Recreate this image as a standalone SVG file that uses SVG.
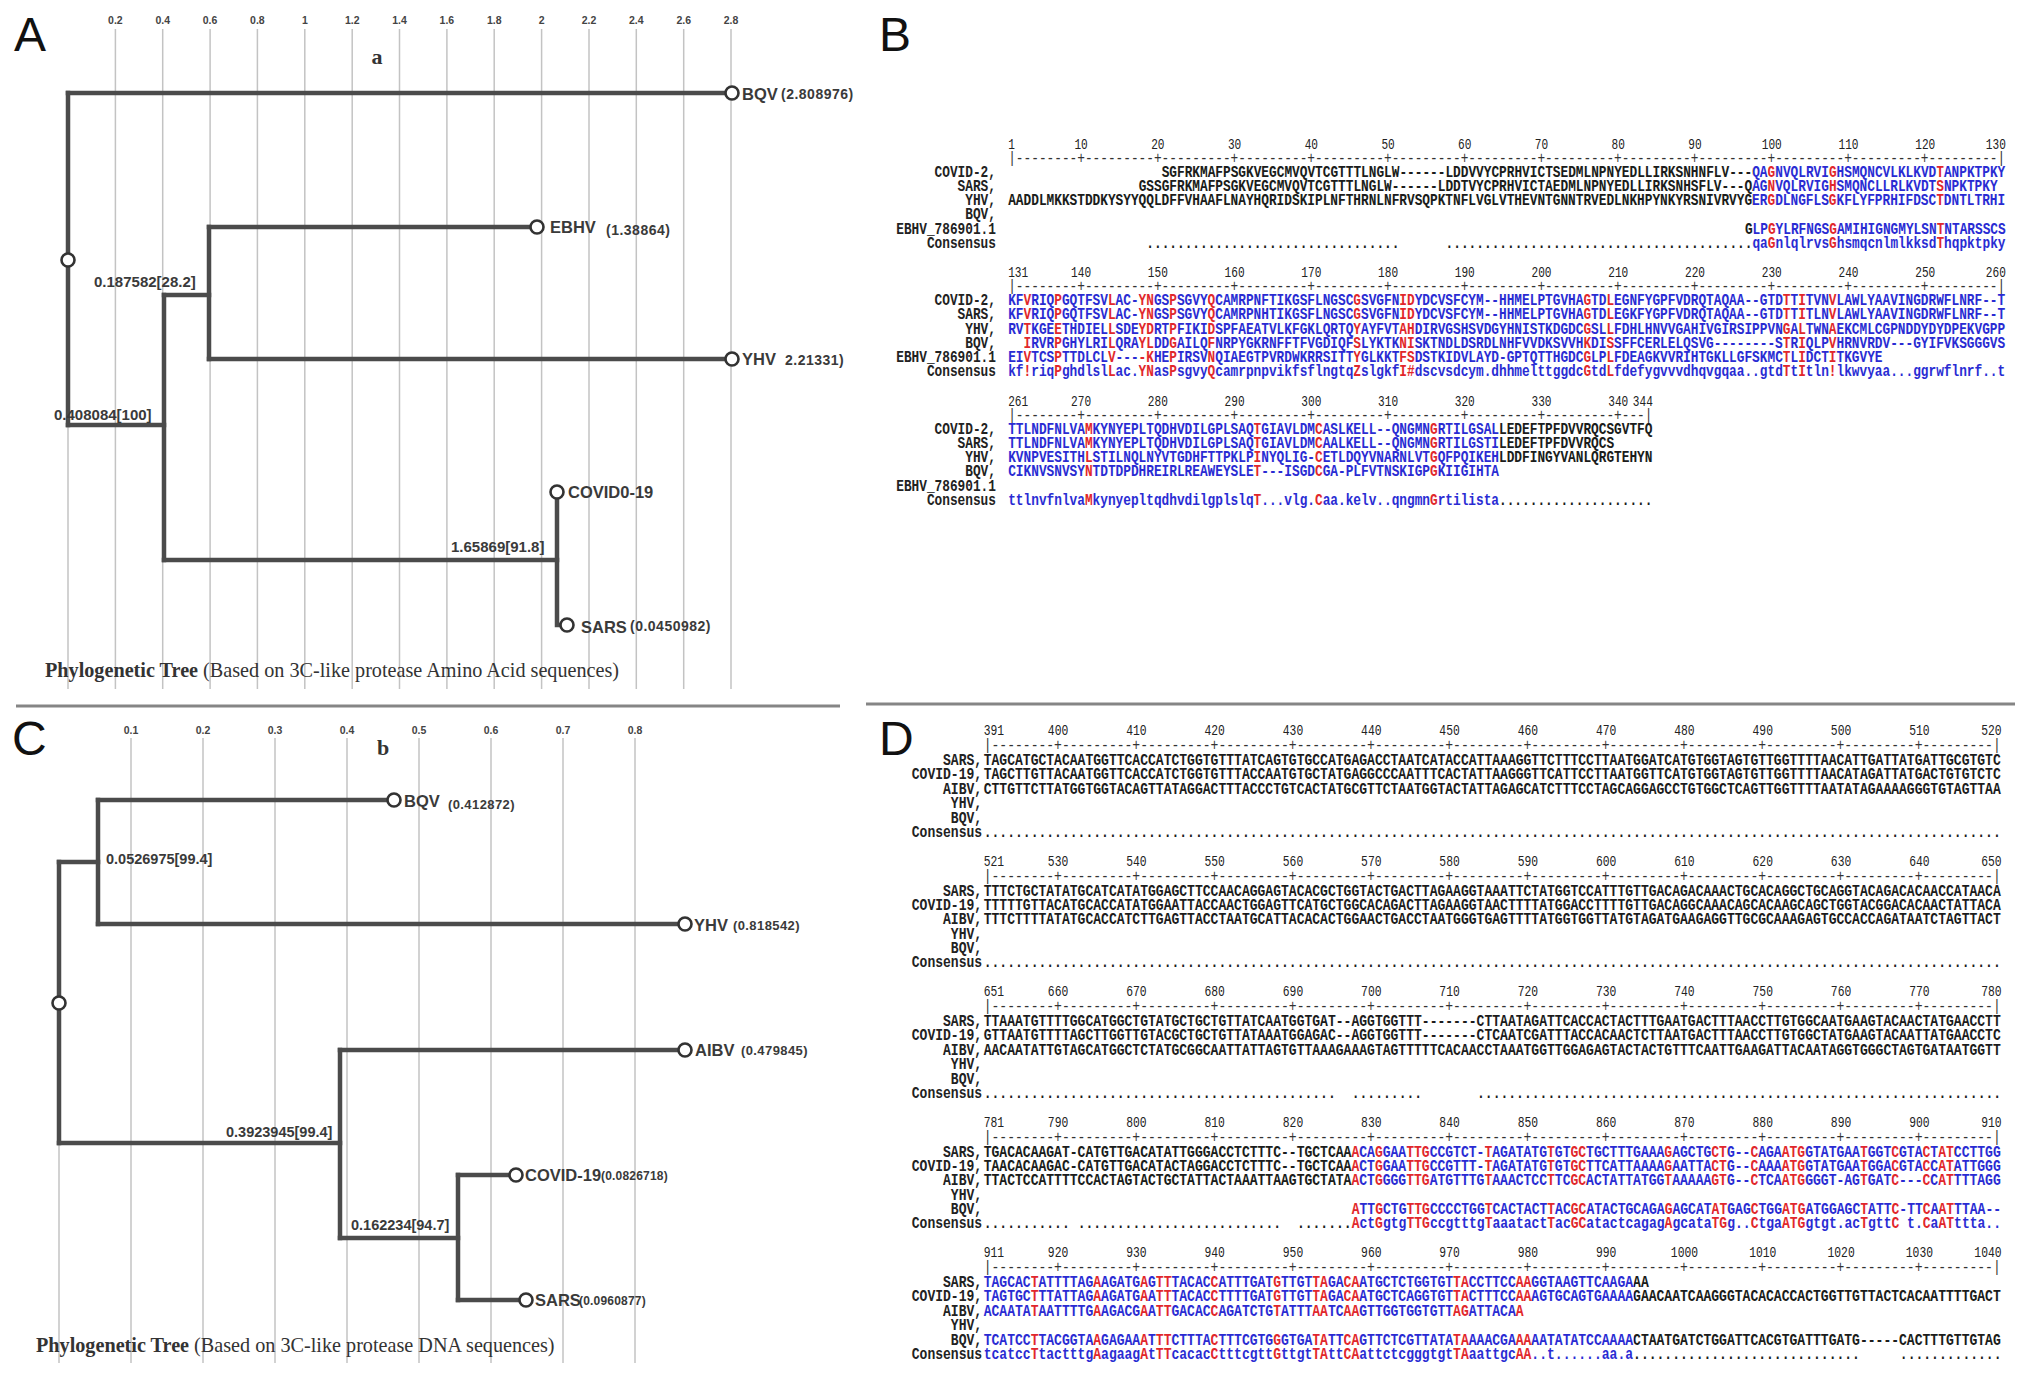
<svg xmlns="http://www.w3.org/2000/svg" width="2032" height="1382" viewBox="0 0 2032 1382">
<style>
.grid{stroke:#c3c3c3;stroke-width:1.5}
.br{fill:none;stroke:#4b4b4b;stroke-width:4.5;stroke-linecap:square;stroke-linejoin:miter}
.nd{fill:#fff;stroke:#333;stroke-width:2.6}
.tk{font-family:"Liberation Sans",Arial,sans-serif;font-size:10.5px;font-weight:bold;fill:#444;text-anchor:middle}
.lf{font-family:"Liberation Sans",Arial,sans-serif;font-size:16.5px;font-weight:bold;fill:#3a3a3a}
.lv{font-family:"Liberation Sans",Arial,sans-serif;font-size:14px;letter-spacing:0.5px;font-weight:bold;fill:#3a3a3a}
.lvc{font-family:"Liberation Sans",Arial,sans-serif;font-size:13px;letter-spacing:0.4px;font-weight:bold;fill:#3a3a3a}
.bl{font-family:"Liberation Sans",Arial,sans-serif;font-size:15px;font-weight:bold;fill:#3a3a3a}
.cap{font-family:"Liberation Serif","Times New Roman",serif;font-size:20.2px;fill:#333}
.capb{font-weight:bold}
.sub{font-family:"Liberation Serif","Times New Roman",serif;font-size:22px;font-weight:bold;fill:#333;text-anchor:middle}
.pl{font-family:"Liberation Sans",Arial,sans-serif;font-size:48px;fill:#111}
.div{stroke:#858585;stroke-width:3}
.sq{font-family:"Liberation Mono","Courier New",monospace;font-size:16.667px;font-weight:bold}
.nm{font-family:"Liberation Mono","Courier New",monospace;font-size:16.667px;font-weight:bold;fill:#222;text-anchor:end}
.num{font-family:"Liberation Mono","Courier New",monospace;font-size:14.5px;fill:#222;text-anchor:middle}
.n0{text-anchor:start}
.n1{text-anchor:end}
.rl{font-family:"Liberation Mono","Courier New",monospace;font-size:16.667px;fill:#333}
.k{fill:#1c1c1c}
.s0{stop-color:#1c1c1c}
.s1{stop-color:#2a2ad2}
.s2{stop-color:#e0262c}
</style>
<defs>
<linearGradient id="gB1" gradientUnits="userSpaceOnUse" x1="0" y1="0" x2="1300" y2="0">
<stop offset="0" class="s0"/><stop offset="0.746154" class="s0"/><stop offset="0.746154" class="s1"/><stop offset="0.761538" class="s1"/><stop offset="0.761538" class="s2"/><stop offset="0.769231" class="s2"/><stop offset="0.769231" class="s1"/><stop offset="0.823077" class="s1"/><stop offset="0.823077" class="s2"/><stop offset="0.830769" class="s2"/><stop offset="0.830769" class="s1"/><stop offset="0.930769" class="s1"/><stop offset="0.930769" class="s2"/><stop offset="0.938462" class="s2"/><stop offset="0.938462" class="s1"/><stop offset="1" class="s1"/>
</linearGradient>
<linearGradient id="gB2" gradientUnits="userSpaceOnUse" x1="0" y1="0" x2="1300" y2="0">
<stop offset="0" class="s1"/>
<stop offset="0.015385" class="s1"/><stop offset="0.015385" class="s2"/><stop offset="0.023077" class="s2"/><stop offset="0.023077" class="s1"/>
<stop offset="0.046154" class="s1"/><stop offset="0.046154" class="s2"/><stop offset="0.053846" class="s2"/><stop offset="0.053846" class="s1"/>
<stop offset="0.1" class="s1"/><stop offset="0.1" class="s2"/><stop offset="0.107692" class="s2"/><stop offset="0.107692" class="s1"/>
<stop offset="0.130769" class="s1"/><stop offset="0.130769" class="s2"/><stop offset="0.146154" class="s2"/><stop offset="0.146154" class="s1"/>
<stop offset="0.161538" class="s1"/><stop offset="0.161538" class="s2"/><stop offset="0.169231" class="s2"/><stop offset="0.169231" class="s1"/>
<stop offset="0.2" class="s1"/><stop offset="0.2" class="s2"/><stop offset="0.207692" class="s2"/><stop offset="0.207692" class="s1"/>
<stop offset="0.346154" class="s1"/><stop offset="0.346154" class="s2"/><stop offset="0.353846" class="s2"/><stop offset="0.353846" class="s1"/>
<stop offset="0.392308" class="s1"/><stop offset="0.392308" class="s2"/><stop offset="0.407692" class="s2"/><stop offset="0.407692" class="s1"/>
<stop offset="0.576923" class="s1"/><stop offset="0.576923" class="s2"/><stop offset="0.584615" class="s2"/><stop offset="0.584615" class="s1"/>
<stop offset="0.6" class="s1"/><stop offset="0.6" class="s2"/><stop offset="0.607692" class="s2"/><stop offset="0.607692" class="s1"/>
<stop offset="0.776923" class="s1"/><stop offset="0.776923" class="s2"/><stop offset="0.784615" class="s2"/><stop offset="0.784615" class="s1"/>
<stop offset="0.792308" class="s1"/><stop offset="0.792308" class="s2"/><stop offset="0.8" class="s2"/><stop offset="0.8" class="s1"/>
<stop offset="0.823077" class="s1"/><stop offset="0.823077" class="s2"/><stop offset="0.830769" class="s2"/><stop offset="0.830769" class="s1"/>
<stop offset="1" class="s1"/>
</linearGradient>
<linearGradient id="gB3" gradientUnits="userSpaceOnUse" x1="0" y1="0" x2="1300" y2="0">
<stop offset="0" class="s1"/>
<stop offset="0.076923" class="s1"/><stop offset="0.076923" class="s2"/><stop offset="0.084615" class="s2"/><stop offset="0.084615" class="s1"/>
<stop offset="0.246154" class="s1"/><stop offset="0.246154" class="s2"/><stop offset="0.253846" class="s2"/><stop offset="0.253846" class="s1"/>
<stop offset="0.307692" class="s1"/><stop offset="0.307692" class="s2"/><stop offset="0.315385" class="s2"/><stop offset="0.315385" class="s1"/>
<stop offset="0.423077" class="s1"/><stop offset="0.423077" class="s2"/><stop offset="0.430769" class="s2"/><stop offset="0.430769" class="s1"/>
<stop offset="0.492308" class="s1"/><stop offset="0.492308" class="s0"/><stop offset="1" class="s0"/>
</linearGradient>
<linearGradient id="gD4" gradientUnits="userSpaceOnUse" x1="0" y1="0" x2="1300" y2="0">
<stop offset="0" class="s0"/><stop offset="0.361538" class="s0"/><stop offset="0.361538" class="s2"/><stop offset="0.369231" class="s2"/><stop offset="0.369231" class="s1"/>
<stop offset="0.384615" class="s1"/><stop offset="0.384615" class="s2"/><stop offset="0.392308" class="s2"/><stop offset="0.392308" class="s1"/>
<stop offset="0.415385" class="s1"/><stop offset="0.415385" class="s2"/><stop offset="0.438462" class="s2"/><stop offset="0.438462" class="s1"/>
<stop offset="0.492308" class="s1"/><stop offset="0.492308" class="s2"/><stop offset="0.5" class="s2"/><stop offset="0.5" class="s1"/>
<stop offset="0.553846" class="s1"/><stop offset="0.553846" class="s2"/><stop offset="0.561538" class="s2"/><stop offset="0.561538" class="s1"/>
<stop offset="0.576923" class="s1"/><stop offset="0.576923" class="s2"/><stop offset="0.592308" class="s2"/><stop offset="0.592308" class="s1"/>
<stop offset="0.669231" class="s1"/><stop offset="0.669231" class="s2"/><stop offset="0.676923" class="s2"/><stop offset="0.676923" class="s1"/>
<stop offset="0.715385" class="s1"/><stop offset="0.715385" class="s2"/><stop offset="0.730769" class="s2"/><stop offset="0.730769" class="s1"/>
<stop offset="0.753846" class="s1"/><stop offset="0.753846" class="s2"/><stop offset="0.761538" class="s2"/><stop offset="0.761538" class="s1"/>
<stop offset="0.784615" class="s1"/><stop offset="0.784615" class="s2"/><stop offset="0.807692" class="s2"/><stop offset="0.807692" class="s1"/>
<stop offset="0.861538" class="s1"/><stop offset="0.861538" class="s2"/><stop offset="0.869231" class="s2"/><stop offset="0.869231" class="s1"/>
<stop offset="0.892308" class="s1"/><stop offset="0.892308" class="s2"/><stop offset="0.9" class="s2"/><stop offset="0.9" class="s1"/>
<stop offset="0.923077" class="s1"/><stop offset="0.923077" class="s2"/><stop offset="0.930769" class="s2"/><stop offset="0.930769" class="s1"/>
<stop offset="0.938462" class="s1"/><stop offset="0.938462" class="s2"/><stop offset="0.953846" class="s2"/><stop offset="0.953846" class="s1"/>
<stop offset="1" class="s1"/>
</linearGradient>
<linearGradient id="gD5" gradientUnits="userSpaceOnUse" x1="0" y1="0" x2="1300" y2="0">
<stop offset="0" class="s1"/>
<stop offset="0.046154" class="s1"/><stop offset="0.046154" class="s2"/><stop offset="0.053846" class="s2"/><stop offset="0.053846" class="s1"/>
<stop offset="0.107692" class="s1"/><stop offset="0.107692" class="s2"/><stop offset="0.115385" class="s2"/><stop offset="0.115385" class="s1"/>
<stop offset="0.153846" class="s1"/><stop offset="0.153846" class="s2"/><stop offset="0.161538" class="s2"/><stop offset="0.161538" class="s1"/>
<stop offset="0.169231" class="s1"/><stop offset="0.169231" class="s2"/><stop offset="0.184615" class="s2"/><stop offset="0.184615" class="s1"/>
<stop offset="0.223077" class="s1"/><stop offset="0.223077" class="s2"/><stop offset="0.230769" class="s2"/><stop offset="0.230769" class="s1"/>
<stop offset="0.284615" class="s1"/><stop offset="0.284615" class="s2"/><stop offset="0.292308" class="s2"/><stop offset="0.292308" class="s1"/>
<stop offset="0.323077" class="s1"/><stop offset="0.323077" class="s2"/><stop offset="0.338462" class="s2"/><stop offset="0.338462" class="s1"/>
<stop offset="0.353846" class="s1"/><stop offset="0.353846" class="s2"/><stop offset="0.369231" class="s2"/><stop offset="0.369231" class="s1"/>
<stop offset="0.461538" class="s1"/><stop offset="0.461538" class="s2"/><stop offset="0.476923" class="s2"/><stop offset="0.476923" class="s1"/>
<stop offset="0.523077" class="s1"/><stop offset="0.523077" class="s2"/><stop offset="0.538462" class="s2"/><stop offset="0.538462" class="s1"/>
<stop offset="0.638462" class="s1"/><stop offset="0.638462" class="s0"/><stop offset="1" class="s0"/>
</linearGradient>
</defs>
<rect width="2032" height="1382" fill="#fff"/>

<!-- panel letters and dividers -->
<text class="pl" x="14" y="51">A</text>
<text class="pl" x="879" y="51">B</text>
<text class="pl" x="12" y="755">C</text>
<text class="pl" x="879" y="755">D</text>
<line class="div" x1="16" y1="706" x2="840" y2="706"/>
<line class="div" x1="866" y1="704" x2="2015" y2="704"/>

<!-- ================= PANEL A : tree ================= -->
<g id="tree-a">
<g id="grid-a">
<line class="grid" x1="68" y1="93" x2="68" y2="689"/>
<line class="grid" x1="115.4" y1="29" x2="115.4" y2="689"/>
<line class="grid" x1="162.7" y1="29" x2="162.7" y2="689"/>
<line class="grid" x1="210.1" y1="29" x2="210.1" y2="689"/>
<line class="grid" x1="257.4" y1="29" x2="257.4" y2="689"/>
<line class="grid" x1="304.8" y1="29" x2="304.8" y2="689"/>
<line class="grid" x1="352.2" y1="29" x2="352.2" y2="689"/>
<line class="grid" x1="399.5" y1="29" x2="399.5" y2="689"/>
<line class="grid" x1="446.9" y1="29" x2="446.9" y2="689"/>
<line class="grid" x1="494.2" y1="29" x2="494.2" y2="689"/>
<line class="grid" x1="541.6" y1="29" x2="541.6" y2="689"/>
<line class="grid" x1="589" y1="29" x2="589" y2="689"/>
<line class="grid" x1="636.3" y1="29" x2="636.3" y2="689"/>
<line class="grid" x1="683.7" y1="29" x2="683.7" y2="689"/>
<line class="grid" x1="731" y1="29" x2="731" y2="689"/>
<text class="tk" x="115.4" y="24">0.2</text>
<text class="tk" x="162.7" y="24">0.4</text>
<text class="tk" x="210.1" y="24">0.6</text>
<text class="tk" x="257.4" y="24">0.8</text>
<text class="tk" x="304.8" y="24">1</text>
<text class="tk" x="352.2" y="24">1.2</text>
<text class="tk" x="399.5" y="24">1.4</text>
<text class="tk" x="446.9" y="24">1.6</text>
<text class="tk" x="494.2" y="24">1.8</text>
<text class="tk" x="541.6" y="24">2</text>
<text class="tk" x="589" y="24">2.2</text>
<text class="tk" x="636.3" y="24">2.4</text>
<text class="tk" x="683.7" y="24">2.6</text>
<text class="tk" x="731" y="24">2.8</text>
</g>
<text class="sub" x="377" y="64">a</text>
<g id="edges-a">
<path class="br" d="M68,93 V425"/>
<path class="br" d="M68,93 H731"/>
<path class="br" d="M68,425 H164"/>
<path class="br" d="M164,295 V560"/>
<path class="br" d="M164,295 H209"/>
<path class="br" d="M209,227 V359"/>
<path class="br" d="M209,227 H537"/>
<path class="br" d="M209,359 H731"/>
<path class="br" d="M164,560 H557"/>
<path class="br" d="M557,492 V625 H566"/>
</g>
<text class="bl" x="94" y="287">0.187582[28.2]</text>
<text class="bl" x="54" y="420">0.408084[100]</text>
<text class="bl" x="451" y="552">1.65869[91.8]</text>
<g id="a-root"><circle class="nd" cx="68" cy="260" r="6.5"/></g>
<g id="a-bqv"><circle class="nd" cx="732" cy="93" r="6.5"/><text class="lf" x="742" y="100">BQV</text><text class="lv" x="781" y="99">(2.808976)</text></g>
<g id="a-ebhv"><circle class="nd" cx="537" cy="227" r="6.5"/><text class="lf" x="550" y="233">EBHV</text><text class="lv" x="606" y="235">(1.38864)</text></g>
<g id="a-yhv"><circle class="nd" cx="732" cy="359" r="6.5"/><text class="lf" x="742" y="365">YHV</text><text class="lv" x="785" y="365">2.21331)</text></g>
<g id="a-covid"><circle class="nd" cx="557" cy="492" r="6.5"/><text class="lf" x="568" y="498">COVID0-19</text></g>
<g id="a-sars"><circle class="nd" cx="567" cy="625" r="6.5"/><text class="lf" x="581" y="633">SARS</text><text class="lv" x="630" y="631">(0.0450982)</text></g>
<text class="cap" x="45" y="677"><tspan class="capb">Phylogenetic Tree</tspan> (Based on 3C-like protease Amino Acid sequences)</text>
</g>

<!-- ================= PANEL C : tree ================= -->
<g id="tree-c">
<g id="grid-c">
<line class="grid" x1="59" y1="862" x2="59" y2="1363"/>
<line class="grid" x1="131" y1="738" x2="131" y2="1363"/>
<line class="grid" x1="203" y1="738" x2="203" y2="1363"/>
<line class="grid" x1="275" y1="738" x2="275" y2="1363"/>
<line class="grid" x1="347" y1="738" x2="347" y2="1363"/>
<line class="grid" x1="419" y1="738" x2="419" y2="1363"/>
<line class="grid" x1="491" y1="738" x2="491" y2="1363"/>
<line class="grid" x1="563" y1="738" x2="563" y2="1363"/>
<line class="grid" x1="635" y1="738" x2="635" y2="1363"/>
<text class="tk" x="131" y="734">0.1</text>
<text class="tk" x="203" y="734">0.2</text>
<text class="tk" x="275" y="734">0.3</text>
<text class="tk" x="347" y="734">0.4</text>
<text class="tk" x="419" y="734">0.5</text>
<text class="tk" x="491" y="734">0.6</text>
<text class="tk" x="563" y="734">0.7</text>
<text class="tk" x="635" y="734">0.8</text>
</g>
<text class="sub" x="383" y="755">b</text>
<g id="edges-c">
<path class="br" d="M59,862 V1143"/>
<path class="br" d="M59,862 H98"/>
<path class="br" d="M98,800 V924"/>
<path class="br" d="M98,800 H394"/>
<path class="br" d="M98,924 H685"/>
<path class="br" d="M59,1143 H340"/>
<path class="br" d="M340,1050 V1238"/>
<path class="br" d="M340,1050 H685"/>
<path class="br" d="M340,1238 H458"/>
<path class="br" d="M458,1175 V1300"/>
<path class="br" d="M458,1175 H516"/>
<path class="br" d="M458,1300 H526"/>
</g>
<text class="bl" x="106" y="864" style="font-size:14.5px">0.0526975[99.4]</text>
<text class="bl" x="226" y="1137" style="font-size:14.5px">0.3923945[99.4]</text>
<text class="bl" x="351" y="1230" style="font-size:14.5px">0.162234[94.7]</text>
<g id="c-root"><circle class="nd" cx="59" cy="1003" r="6.5"/></g>
<g id="c-bqv"><circle class="nd" cx="394" cy="800" r="6.5"/><text class="lf" x="404" y="807">BQV</text><text class="lvc" x="448" y="809">(0.412872)</text></g>
<g id="c-yhv"><circle class="nd" cx="685" cy="924" r="6.5"/><text class="lf" x="694" y="931">YHV</text><text class="lvc" x="733" y="930">(0.818542)</text></g>
<g id="c-aibv"><circle class="nd" cx="685" cy="1050" r="6.5"/><text class="lf" x="695" y="1056">AIBV</text><text class="lvc" x="741" y="1055">(0.479845)</text></g>
<g id="c-covid"><circle class="nd" cx="516" cy="1175" r="6.5"/><text class="lf" x="525" y="1181">COVID-19</text><text class="lvc" x="601" y="1180" style="font-size:12px;letter-spacing:0.2px">(0.0826718)</text></g>
<g id="c-sars"><circle class="nd" cx="526" cy="1300" r="6.5"/><text class="lf" x="535" y="1306">SARS</text><text class="lvc" x="579" y="1305" style="font-size:12px;letter-spacing:0.2px">(0.0960877)</text></g>
<text class="cap" x="36" y="1352"><tspan class="capb">Phylogenetic Tree</tspan> (Based on 3C-like protease DNA sequences)</text>
</g>

<!-- ================= PANEL B : protein alignment ================= -->
<g id="aln-b">
<g id="b-block1" transform="translate(1008.2,176.5) scale(0.7674,1)">
<text class="num n0" x="0" y="-28">1</text><text class="num" x="95" y="-28">10</text><text class="num" x="195" y="-28">20</text><text class="num" x="295" y="-28">30</text><text class="num" x="395" y="-28">40</text><text class="num" x="495" y="-28">50</text><text class="num" x="595" y="-28">60</text><text class="num" x="695" y="-28">70</text><text class="num" x="795" y="-28">80</text><text class="num" x="895" y="-28">90</text><text class="num" x="995" y="-28">100</text><text class="num" x="1095" y="-28">110</text><text class="num" x="1195" y="-28">120</text><text class="num n1" x="1300" y="-28">130</text>
<text class="rl" x="0" y="-14">|--------+---------+---------+---------+---------+---------+---------+---------+---------+---------+---------+---------+---------|</text>
<text class="nm" x="-16" y="0">COVID-2,</text>
<text class="nm" x="-16" y="14.28">SARS,</text>
<text class="nm" x="-16" y="28.56">YHV,</text>
<text class="nm" x="-16" y="42.84">BQV,</text>
<text class="nm" x="-16" y="57.12">EBHV_786901.1</text>
<text class="nm" x="-16" y="71.4">Consensus</text>
<text class="sq" fill="url(#gB1)" x="200" y="0">SGFRKMAFPSGKVEGCMVQVTCGTTTLNGLW------LDDVVYCPRHVICTSEDMLNPNYEDLLIRKSNHNFLV---QAGNVQLRVIGHSMQNCVLKLKVDTANPKTPKY</text>
<text class="sq" fill="url(#gB1)" x="170" y="14.28">GSSGFRKMAFPSGKVEGCMVQVTCGTTTLNGLW------LDDTVYCPRHVICTAEDMLNPNYEDLLIRKSNHSFLV---QAGNVQLRVIGHSMQNCLLRLKVDTSNPKTPKY</text>
<text class="sq" fill="url(#gB1)" x="0" y="28.56">AADDLMKKSTDDKYSYYQQLDFFVHAAFLNAYHQRIDSKIPLNFTHRNLNFRVSQPKTNFLVGLVTHEVNTGNNTRVEDLNKHPYNKYRSNIVRVYGERGDLNGFLSGKFLYFPRHIFDSCTDNTLTRHI</text>
<text class="sq" fill="url(#gB1)" x="960" y="57.12">GLPGYLRFNGSGAMIHIGNGMYLSNTNTARSSCS</text>
<text class="sq" fill="url(#gB1)" x="180" y="71.4">.................................</text>
<text class="sq" fill="url(#gB1)" x="570" y="71.4">........................................qaGnlqlrvsGhsmqcnlmlkksdThqpktpky</text>
</g>
<g id="b-block2" transform="translate(1008.2,305) scale(0.7674,1)">
<text class="num n0" x="0" y="-28">131</text><text class="num" x="95" y="-28">140</text><text class="num" x="195" y="-28">150</text><text class="num" x="295" y="-28">160</text><text class="num" x="395" y="-28">170</text><text class="num" x="495" y="-28">180</text><text class="num" x="595" y="-28">190</text><text class="num" x="695" y="-28">200</text><text class="num" x="795" y="-28">210</text><text class="num" x="895" y="-28">220</text><text class="num" x="995" y="-28">230</text><text class="num" x="1095" y="-28">240</text><text class="num" x="1195" y="-28">250</text><text class="num n1" x="1300" y="-28">260</text>
<text class="rl" x="0" y="-14">|--------+---------+---------+---------+---------+---------+---------+---------+---------+---------+---------+---------+---------|</text>
<text class="nm" x="-16" y="0">COVID-2,</text>
<text class="nm" x="-16" y="14.28">SARS,</text>
<text class="nm" x="-16" y="28.56">YHV,</text>
<text class="nm" x="-16" y="42.84">BQV,</text>
<text class="nm" x="-16" y="57.12">EBHV_786901.1</text>
<text class="nm" x="-16" y="71.4">Consensus</text>
<text class="sq" fill="url(#gB2)" x="0" y="0">KFVRIQPGQTFSVLAC-YNGSPSGVYQCAMRPNFTIKGSFLNGSCGSVGFNIDYDCVSFCYM--HHMELPTGVHAGTDLEGNFYGPFVDRQTAQAA--GTDTTITVNVLAWLYAAVINGDRWFLNRF--T</text>
<text class="sq" fill="url(#gB2)" x="0" y="14.28">KFVRIQPGQTFSVLAC-YNGSPSGVYQCAMRPNHTIKGSFLNGSCGSVGFNIDYDCVSFCYM--HHMELPTGVHAGTDLEGKFYGPFVDRQTAQAA--GTDTTITLNVLAWLYAAVINGDRWFLNRF--T</text>
<text class="sq" fill="url(#gB2)" x="0" y="28.56">RVTKGEETHDIELLSDEYDRTPFIKIDSPFAEATVLKFGKLQRTQYAYFVTAHDIRVGSHSVDGYHNISTKDGDCGSLLFDHLHNVVGAHIVGIRSIPPVNGALTWNAEKCMLCGPNDDYDYDPEKVGPP</text>
<text class="sq" fill="url(#gB2)" x="20" y="42.84">IRVRPGHYLRILQRAYLDDGAILQFNRPYGKRNFFTFVGDIQFSLYKTKNISKTNDLDSRDLNHFVVDKSVVHKDISSFFCERLELQSVG--------STRIQLPVHRNVRDV---GYIFVKSGGGVS</text>
<text class="sq" fill="url(#gB2)" x="0" y="57.12">EIVTCSPTTDLCLV----KHEPIRSVNQIAEGTPVRDWKRRSITTYGLKKTFSDSTKIDVLAYD-GPTQTTHGDCGLPLFDEAGKVVRIHTGKLLGFSKMCTLIDCTITKGVYE</text>
<text class="sq" fill="url(#gB2)" x="0" y="71.4">kf!riqPghdlslLac.YNasPsgvyQcamrpnpvikfsflngtqZslgkfI#dscvsdcym.dhhmelttggdcGtdLfdefygvvvdhqvgqaa..gtdTtItln!lkwvyaa...ggrwflnrf..t</text>
</g>
<g id="b-block3" transform="translate(1008.2,433.5) scale(0.7674,1)">
<text class="num n0" x="0" y="-28">261</text><text class="num" x="95" y="-28">270</text><text class="num" x="195" y="-28">280</text><text class="num" x="295" y="-28">290</text><text class="num" x="395" y="-28">300</text><text class="num" x="495" y="-28">310</text><text class="num" x="595" y="-28">320</text><text class="num" x="695" y="-28">330</text><text class="num" x="795" y="-28">340</text><text class="num n1" x="840" y="-28">344</text>
<text class="rl" x="0" y="-14">|--------+---------+---------+---------+---------+---------+---------+---------+---|</text>
<text class="nm" x="-16" y="0">COVID-2,</text>
<text class="nm" x="-16" y="14.28">SARS,</text>
<text class="nm" x="-16" y="28.56">YHV,</text>
<text class="nm" x="-16" y="42.84">BQV,</text>
<text class="nm" x="-16" y="57.12">EBHV_786901.1</text>
<text class="nm" x="-16" y="71.4">Consensus</text>
<text class="sq" fill="url(#gB3)" x="0" y="0">TTLNDFNLVAMKYNYEPLTQDHVDILGPLSAQTGIAVLDMCASLKELL--QNGMNGRTILGSALLEDEFTPFDVVRQCSGVTFQ</text>
<text class="sq" fill="url(#gB3)" x="0" y="14.28">TTLNDFNLVAMKYNYEPLTQDHVDILGPLSAQTGIAVLDMCAALKELL--QNGMNGRTILGSTILEDEFTPFDVVRQCS</text>
<text class="sq" fill="url(#gB3)" x="0" y="28.56">KVNPVESITHLSTILNQLNYVTGDHFTTPKLPINYQLIG-CETLDQYVNARNLVTGQFPQIKEHLDDFINGYVANLQRGTEHYN</text>
<text class="sq" fill="url(#gB3)" x="0" y="42.84">CIKNVSNVSYNTDTDPDHREIRLREAWEYSLET---ISGDCGA-PLFVTNSKIGPGKIIGIHTA</text>
<text class="sq" fill="url(#gB3)" x="0" y="71.4">ttlnvfnlvaMkynyepltqdhvdilgplslqT...vlg.Caa.kelv..qngmnGrtilista....................</text>
</g>
</g>

<!-- ================= PANEL D : DNA alignment ================= -->
<g id="aln-d">
<g id="d-block1" transform="translate(983.7,765) scale(0.783,1)">
<text class="num n0" x="0" y="-30">391</text><text class="num" x="95" y="-30">400</text><text class="num" x="195" y="-30">410</text><text class="num" x="295" y="-30">420</text><text class="num" x="395" y="-30">430</text><text class="num" x="495" y="-30">440</text><text class="num" x="595" y="-30">450</text><text class="num" x="695" y="-30">460</text><text class="num" x="795" y="-30">470</text><text class="num" x="895" y="-30">480</text><text class="num" x="995" y="-30">490</text><text class="num" x="1095" y="-30">500</text><text class="num" x="1195" y="-30">510</text><text class="num n1" x="1300" y="-30">520</text>
<text class="rl" x="0" y="-15">|--------+---------+---------+---------+---------+---------+---------+---------+---------+---------+---------+---------+---------|</text>
<text class="nm" x="-2" y="0">SARS,</text>
<text class="nm" x="-2" y="14.4">COVID-19,</text>
<text class="nm" x="-2" y="28.8">AIBV,</text>
<text class="nm" x="-2" y="43.2">YHV,</text>
<text class="nm" x="-2" y="57.6">BQV,</text>
<text class="nm" x="-2" y="72">Consensus</text>
<text class="sq k" x="0" y="0">TAGCATGCTACAATGGTTCACCATCTGGTGTTTATCAGTGTGCCATGAGACCTAATCATACCATTAAAGGTTCTTTCCTTAATGGATCATGTGGTAGTGTTGGTTTTAACATTGATTATGATTGCGTGTC</text>
<text class="sq k" x="0" y="14.4">TAGCTTGTTACAATGGTTCACCATCTGGTGTTTACCAATGTGCTATGAGGCCCAATTTCACTATTAAGGGTTCATTCCTTAATGGTTCATGTGGTAGTGTTGGTTTTAACATAGATTATGACTGTGTCTC</text>
<text class="sq k" x="0" y="28.8">CTTGTTCTTATGGTGGTACAGTTATAGGACTTTACCCTGTCACTATGCGTTCTAATGGTACTATTAGAGCATCTTTCCTAGCAGGAGCCTGTGGCTCAGTTGGTTTTAATATAGAAAAGGGTGTAGTTAA</text>
<text class="sq k" x="0" y="72">..................................................................................................................................</text>
</g>
<g id="d-block2" transform="translate(983.7,895.5) scale(0.783,1)">
<text class="num n0" x="0" y="-30">521</text><text class="num" x="95" y="-30">530</text><text class="num" x="195" y="-30">540</text><text class="num" x="295" y="-30">550</text><text class="num" x="395" y="-30">560</text><text class="num" x="495" y="-30">570</text><text class="num" x="595" y="-30">580</text><text class="num" x="695" y="-30">590</text><text class="num" x="795" y="-30">600</text><text class="num" x="895" y="-30">610</text><text class="num" x="995" y="-30">620</text><text class="num" x="1095" y="-30">630</text><text class="num" x="1195" y="-30">640</text><text class="num n1" x="1300" y="-30">650</text>
<text class="rl" x="0" y="-15">|--------+---------+---------+---------+---------+---------+---------+---------+---------+---------+---------+---------+---------|</text>
<text class="nm" x="-2" y="0">SARS,</text>
<text class="nm" x="-2" y="14.4">COVID-19,</text>
<text class="nm" x="-2" y="28.8">AIBV,</text>
<text class="nm" x="-2" y="43.2">YHV,</text>
<text class="nm" x="-2" y="57.6">BQV,</text>
<text class="nm" x="-2" y="72">Consensus</text>
<text class="sq k" x="0" y="0">TTTCTGCTATATGCATCATATGGAGCTTCCAACAGGAGTACACGCTGGTACTGACTTAGAAGGTAAATTCTATGGTCCATTTGTTGACAGACAAACTGCACAGGCTGCAGGTACAGACACAACCATAACA</text>
<text class="sq k" x="0" y="14.4">TTTTTGTTACATGCACCATATGGAATTACCAACTGGAGTTCATGCTGGCACAGACTTAGAAGGTAACTTTTATGGACCTTTTGTTGACAGGCAAACAGCACAAGCAGCTGGTACGGACACAACTATTACA</text>
<text class="sq k" x="0" y="28.8">TTTCTTTTATATGCACCATCTTGAGTTACCTAATGCATTACACACTGGAACTGACCTAATGGGTGAGTTTTATGGTGGTTATGTAGATGAAGAGGTTGCGCAAAGAGTGCCACCAGATAATCTAGTTACT</text>
<text class="sq k" x="0" y="72">..................................................................................................................................</text>
</g>
<g id="d-block3" transform="translate(983.7,1026) scale(0.783,1)">
<text class="num n0" x="0" y="-30">651</text><text class="num" x="95" y="-30">660</text><text class="num" x="195" y="-30">670</text><text class="num" x="295" y="-30">680</text><text class="num" x="395" y="-30">690</text><text class="num" x="495" y="-30">700</text><text class="num" x="595" y="-30">710</text><text class="num" x="695" y="-30">720</text><text class="num" x="795" y="-30">730</text><text class="num" x="895" y="-30">740</text><text class="num" x="995" y="-30">750</text><text class="num" x="1095" y="-30">760</text><text class="num" x="1195" y="-30">770</text><text class="num n1" x="1300" y="-30">780</text>
<text class="rl" x="0" y="-15">|--------+---------+---------+---------+---------+---------+---------+---------+---------+---------+---------+---------+---------|</text>
<text class="nm" x="-2" y="0">SARS,</text>
<text class="nm" x="-2" y="14.4">COVID-19,</text>
<text class="nm" x="-2" y="28.8">AIBV,</text>
<text class="nm" x="-2" y="43.2">YHV,</text>
<text class="nm" x="-2" y="57.6">BQV,</text>
<text class="nm" x="-2" y="72">Consensus</text>
<text class="sq k" x="0" y="0">TTAAATGTTTTGGCATGGCTGTATGCTGCTGTTATCAATGGTGAT--AGGTGGTTT-------CTTAATAGATTCACCACTACTTTGAATGACTTTAACCTTGTGGCAATGAAGTACAACTATGAACCTT</text>
<text class="sq k" x="0" y="14.4">GTTAATGTTTTAGCTTGGTTGTACGCTGCTGTTATAAATGGAGAC--AGGTGGTTT-------CTCAATCGATTTACCACAACTCTTAATGACTTTAACCTTGTGGCTATGAAGTACAATTATGAACCTC</text>
<text class="sq k" x="0" y="28.8">AACAATATTGTAGCATGGCTCTATGCGGCAATTATTAGTGTTAAAGAAAGTAGTTTTTCACAACCTAAATGGTTGGAGAGTACTACTGTTTCAATTGAAGATTACAATAGGTGGGCTAGTGATAATGGTT</text>
<text class="sq k" x="0" y="72">.............................................</text>
<text class="sq k" x="470" y="72">.........</text>
<text class="sq k" x="630" y="72">...................................................................</text>
</g>
<g id="d-block4" transform="translate(983.7,1156.5) scale(0.783,1)">
<text class="num n0" x="0" y="-30">781</text><text class="num" x="95" y="-30">790</text><text class="num" x="195" y="-30">800</text><text class="num" x="295" y="-30">810</text><text class="num" x="395" y="-30">820</text><text class="num" x="495" y="-30">830</text><text class="num" x="595" y="-30">840</text><text class="num" x="695" y="-30">850</text><text class="num" x="795" y="-30">860</text><text class="num" x="895" y="-30">870</text><text class="num" x="995" y="-30">880</text><text class="num" x="1095" y="-30">890</text><text class="num" x="1195" y="-30">900</text><text class="num n1" x="1300" y="-30">910</text>
<text class="rl" x="0" y="-15">|--------+---------+---------+---------+---------+---------+---------+---------+---------+---------+---------+---------+---------|</text>
<text class="nm" x="-2" y="0">SARS,</text>
<text class="nm" x="-2" y="14.4">COVID-19,</text>
<text class="nm" x="-2" y="28.8">AIBV,</text>
<text class="nm" x="-2" y="43.2">YHV,</text>
<text class="nm" x="-2" y="57.6">BQV,</text>
<text class="nm" x="-2" y="72">Consensus</text>
<text class="sq" fill="url(#gD4)" x="0" y="0">TGACACAAGAT-CATGTTGACATATTGGGACCTCTTTC--TGCTCAAACAGGAATTGCCGTCT-TAGATATGTGTGCTGCTTTGAAAGAGCTGCTG--CAGAATGGTATGAATGGTCGTACTATCCTTGG</text>
<text class="sq" fill="url(#gD4)" x="0" y="14.4">TAACACAAGAC-CATGTTGACATACTAGGACCTCTTTC--TGCTCAAACTGGAATTGCCGTTT-TAGATATGTGTGCTTCATTAAAAGAATTACTG--CAAAATGGTATGAATGGACGTACCATATTGGG</text>
<text class="sq" fill="url(#gD4)" x="0" y="28.8">TTACTCCATTTTCCACTAGTACTGCTATTACTAAATTAAGTGCTATAACTGGGGTTGATGTTTGTAAACTCCTTCGCACTATTATGGTAAAAAGTG--CTCAATGGGGT-AGTGATC---CCATTTTAGG</text>
<text class="sq" fill="url(#gD4)" x="470" y="57.6">ATTGCTGTTGCCCCTGGTCACTACTTACGCATACTGCAGAGAGCATATGAGCTGGATGATGGAGCTATTC-TTCAATTTAA--</text>
<text class="sq k" x="0" y="72">...........</text>
<text class="sq k" x="120" y="72">..........................</text>
<text class="sq" fill="url(#gD4)" x="400" y="72">.......ActGgtgTTGccgtttgTaaatactTacGCatactcagagAgcataTGg..CtgaATGgtgt.acTgttC&#160;t.CaATttta..</text>
</g>
<g id="d-block5" transform="translate(983.7,1287) scale(0.783,1)">
<text class="num n0" x="0" y="-30">911</text><text class="num" x="95" y="-30">920</text><text class="num" x="195" y="-30">930</text><text class="num" x="295" y="-30">940</text><text class="num" x="395" y="-30">950</text><text class="num" x="495" y="-30">960</text><text class="num" x="595" y="-30">970</text><text class="num" x="695" y="-30">980</text><text class="num" x="795" y="-30">990</text><text class="num" x="895" y="-30">1000</text><text class="num" x="995" y="-30">1010</text><text class="num" x="1095" y="-30">1020</text><text class="num" x="1195" y="-30">1030</text><text class="num n1" x="1300" y="-30">1040</text>
<text class="rl" x="0" y="-15">|--------+---------+---------+---------+---------+---------+---------+---------+---------+---------+---------+---------+---------|</text>
<text class="nm" x="-2" y="0">SARS,</text>
<text class="nm" x="-2" y="14.4">COVID-19,</text>
<text class="nm" x="-2" y="28.8">AIBV,</text>
<text class="nm" x="-2" y="43.2">YHV,</text>
<text class="nm" x="-2" y="57.6">BQV,</text>
<text class="nm" x="-2" y="72">Consensus</text>
<text class="sq" fill="url(#gD5)" x="0" y="0">TAGCACTATTTTAGAAGATGAGTTTACACCATTTGATGTTGTTAGACAATGCTCTGGTGTTACCTTCCAAGGTAAGTTCAAGAAA</text>
<text class="sq" fill="url(#gD5)" x="0" y="14.4">TAGTGCTTTATTAGAAGATGAATTTACACCTTTTGATGTTGTTAGACAATGCTCAGGTGTTACTTTCCAAAGTGCAGTGAAAAGAACAATCAAGGGTACACACCACTGGTTGTTACTCACAATTTTGACT</text>
<text class="sq" fill="url(#gD5)" x="0" y="28.8">ACAATATAATTTTGAAGACGAATTGACACCAGATCTGTATTTAATCAAGTTGGTGGTGTTAGATTACAA</text>
<text class="sq" fill="url(#gD5)" x="0" y="57.6">TCATCCTTACGGTAAGAGAAATTTCTTTACTTTCGTGGGTGATATTCAGTTCTCGTTATATAAAACGAAAAATATATCCAAAACTAATGATCTGGATTCACGTGATTTGATG-----CACTTTGTTGTAG</text>
<text class="sq" fill="url(#gD5)" x="0" y="72">tcatccTtactttgAagaagAtTTcacacCtttcgttGttgtTAttCAattctcgggtgtTAaattgcAA..t......aa.a.............................</text>
<text class="sq k" x="1170" y="72">.............</text>
</g>
</g>
</svg>
